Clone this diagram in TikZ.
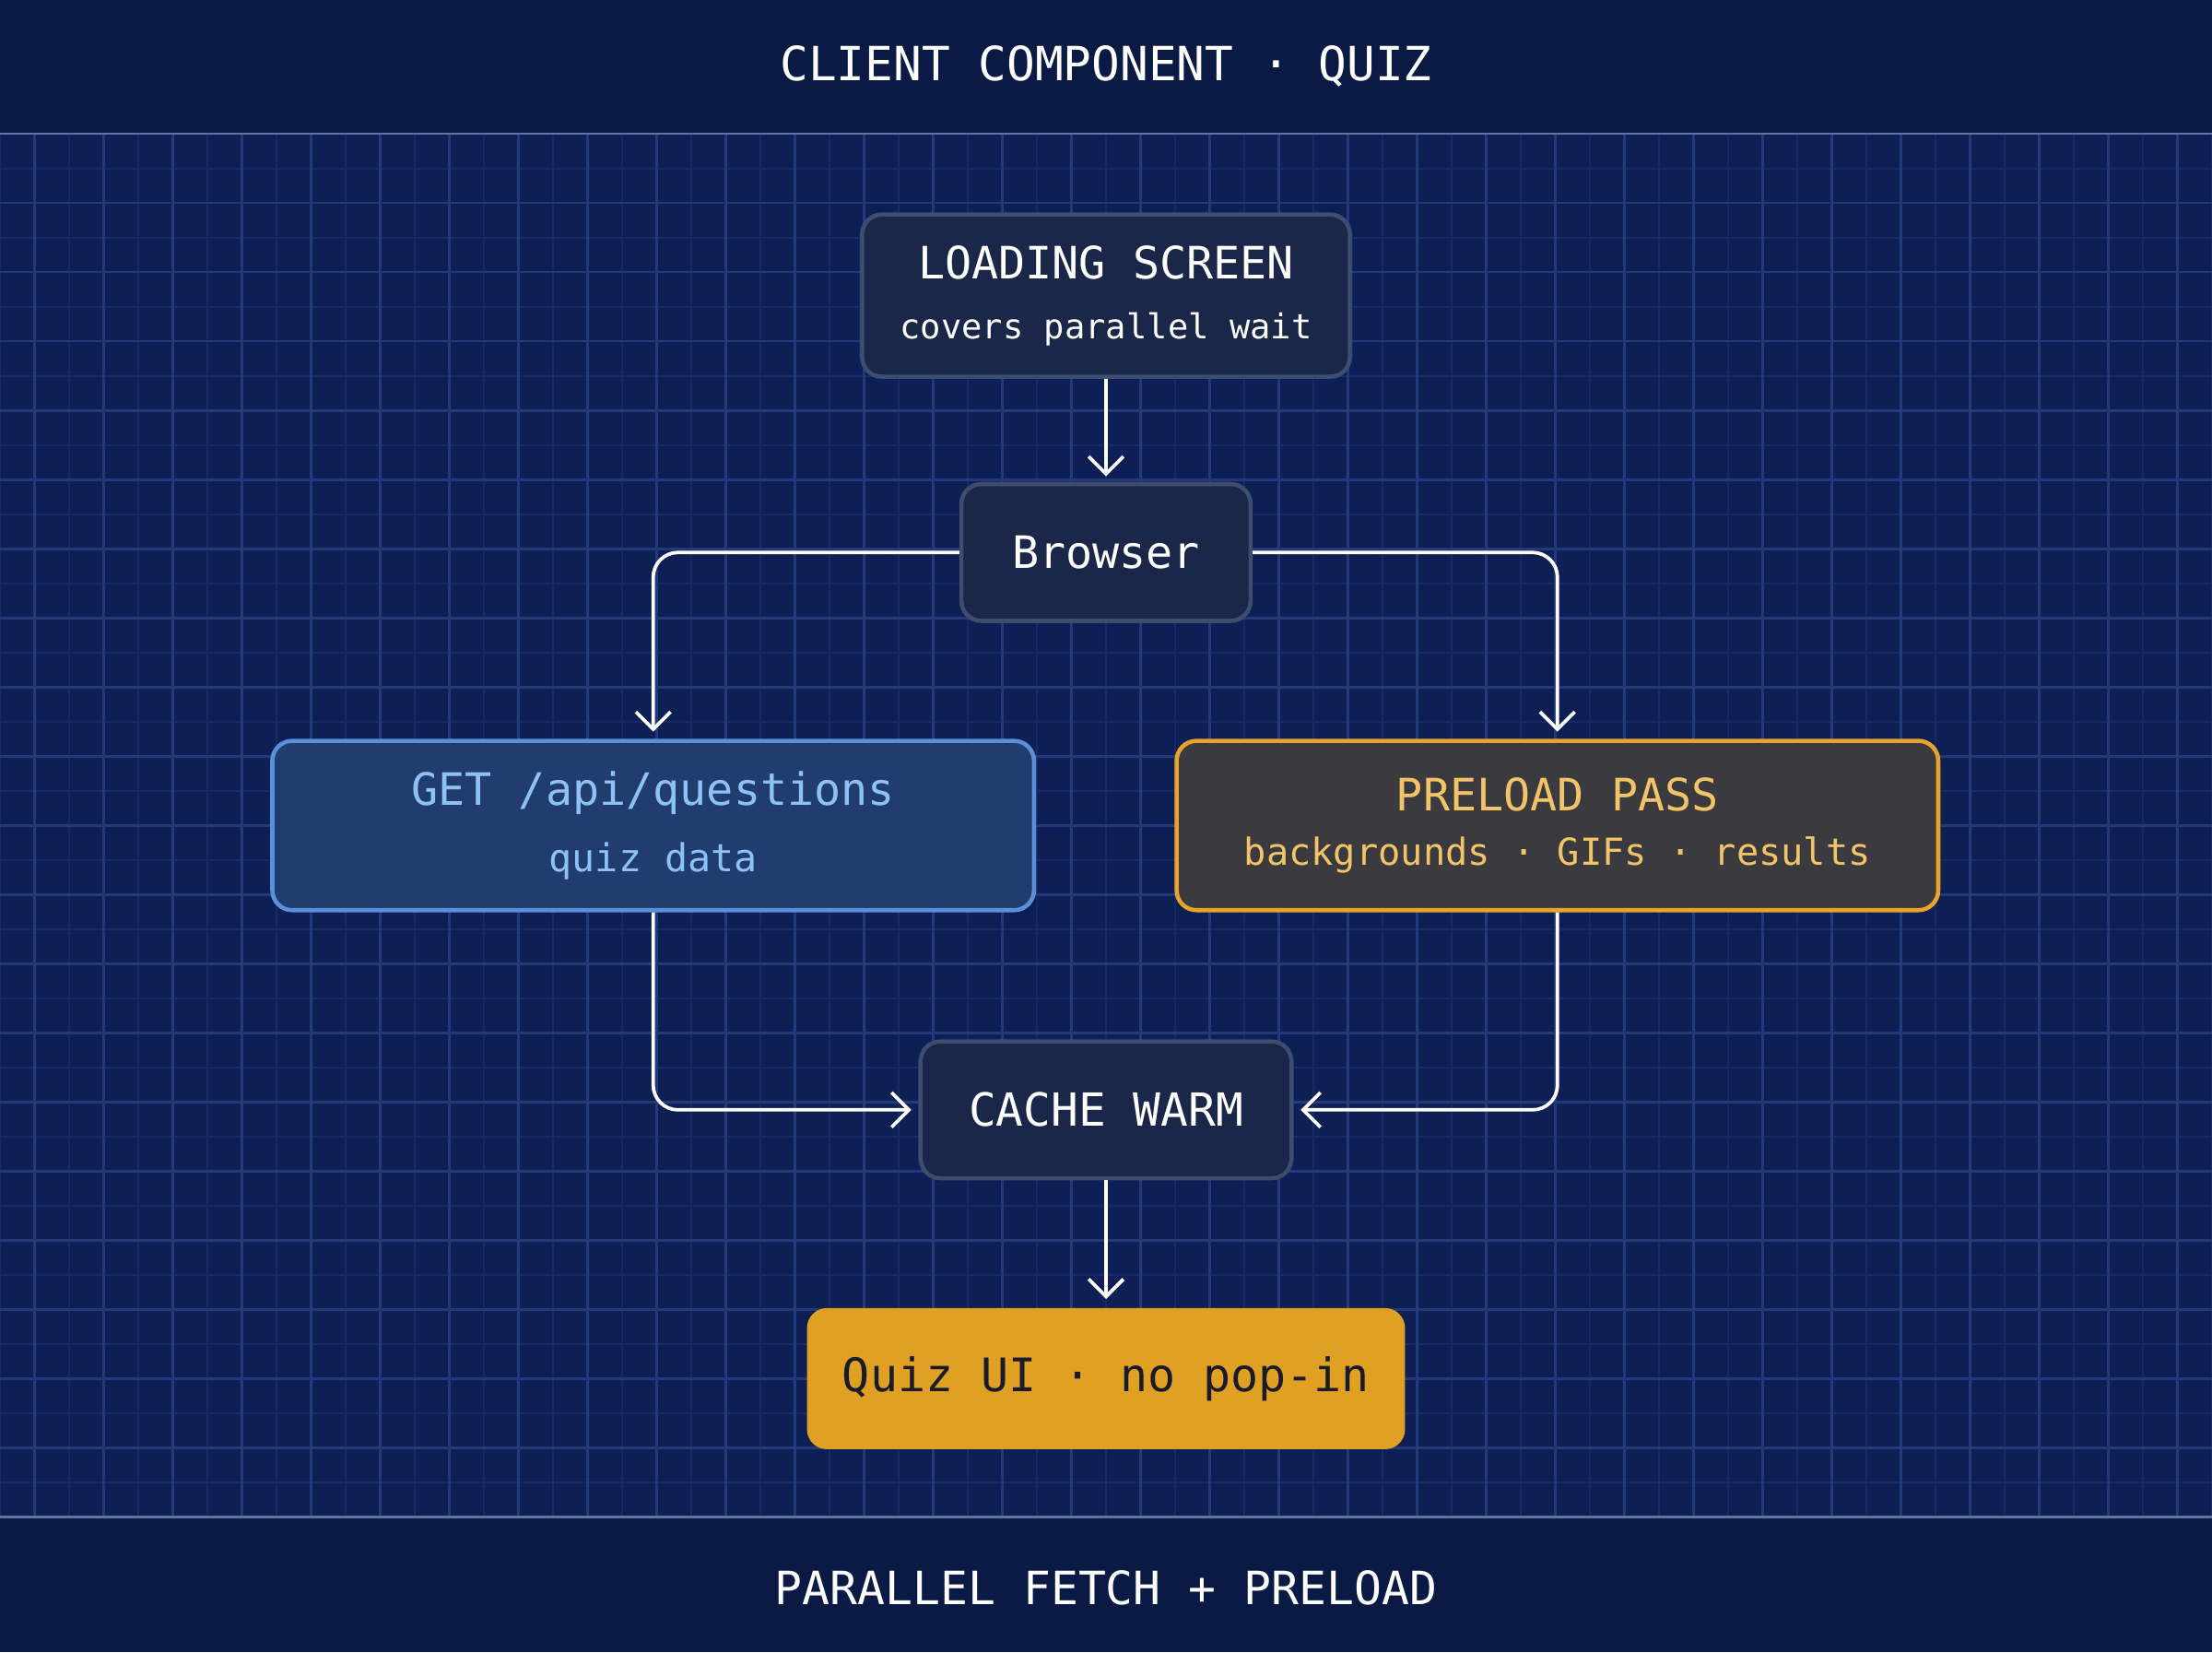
\documentclass[tikz,border=0pt]{standalone}
\usepackage{fontspec}
\setmainfont{DejaVu Sans Mono}
\usetikzlibrary{arrows.meta}
\definecolor{bgtop}{HTML}{0A1A45}
\definecolor{bggrid}{HTML}{0D1F55}
\definecolor{gridc}{HTML}{162A66}
\definecolor{gridm}{HTML}{22397A}
\definecolor{darkbox}{HTML}{1B2748}
\definecolor{darkedge}{HTML}{3E4C6E}
\definecolor{bluebox}{HTML}{213C6E}
\definecolor{blueedge}{HTML}{5B8FD9}
\definecolor{bluetext}{HTML}{8EC1F5}
\definecolor{greybox}{HTML}{3B3A3F}
\definecolor{orangeedge}{HTML}{E8A42A}
\definecolor{orangetext}{HTML}{F2C46A}
\definecolor{gold}{HTML}{E0A024}
\definecolor{inktext}{HTML}{1A1A2A}
\begin{document}
\begin{tikzpicture}[x=0.02cm,y=-0.02cm,
  box/.style={draw=darkedge,fill=darkbox,line width=1.7pt,rounded corners=8pt,text=white,align=center,inner sep=0pt},
  conn/.style={draw=white,line width=1.4pt,rounded corners=10pt,-{Straight Barb[length=7pt,width=14pt,line width=1.4pt]}},
  lbl/.style={text=white}]
\fill[bgtop] (0,0) rectangle (1568,1171);
\useasboundingbox (0,0) rectangle (1568,1171);
\fill[bggrid] (0,95) rectangle (1568,1075);
\begin{scope}
\clip (0,95) rectangle (1568,1075);
\foreach \i in {0,...,64} \draw[gridc,line width=0.5pt] (24.5*\i,95) -- (24.5*\i,1075);
\foreach \i in {0,...,40} \draw[gridc,line width=0.5pt] (0,95+24.5*\i) -- (1568,95+24.5*\i);
\foreach \i in {0,...,32} \draw[gridm,line width=0.8pt] (24.5+49*\i,95) -- (24.5+49*\i,1075);
\foreach \i in {0,...,20} \draw[gridm,line width=0.8pt] (0,95+49*\i) -- (1568,95+49*\i);
\end{scope}
\draw[gridm!70!white,line width=0.8pt] (0,95) -- (1568,95) (0,1075) -- (1568,1075);
\node[lbl,font=\fontsize{19}{22}\selectfont] (title) at (784,47) {CLIENT COMPONENT · QUIZ};
\node[lbl,font=\fontsize{18.5}{22}\selectfont] (foot) at (784,1125) {PARALLEL FETCH + PRELOAD};

\node[box,minimum width=6.92cm,minimum height=2.3cm] (load) at (784,209.5)
  {{\fontsize{18}{20}\selectfont LOADING SCREEN}\\[12pt]{\fontsize{13.8}{16}\selectfont covers parallel wait}};
\node[box,minimum width=4.1cm,minimum height=1.94cm,font=\fontsize{18}{20}\selectfont] (browser) at (784,391.5) {Browser};
\node[box,draw=blueedge,fill=bluebox,text=bluetext,minimum width=10.8cm,minimum height=2.4cm] (get) at (463,585)
  {{\fontsize{18}{20}\selectfont GET /api/questions}\\[10pt]{\fontsize{15.5}{18}\selectfont quiz data}};
\node[box,draw=orangeedge,fill=greybox,text=orangetext,minimum width=10.8cm,minimum height=2.4cm] (pre) at (1104,585)
  {{\fontsize{18}{20}\selectfont PRELOAD PASS}\\[10pt]{\fontsize{15}{18}\selectfont backgrounds · GIFs · results}};
\node[box,minimum width=5.26cm,minimum height=1.94cm,font=\fontsize{18.4}{20}\selectfont] (cache) at (784,786.5) {CACHE WARM};
\node[box,draw=none,fill=gold,text=inktext,minimum width=8.48cm,minimum height=2cm,font=\fontsize{18.6}{20}\selectfont] (quiz) at (784,977) {Quiz UI · no pop-in};

\draw[conn] (load.south) -- ([yshift=0.08cm]browser.north);
\draw[conn] (browser.west) -| ([yshift=0.1cm]get.north);
\draw[conn] (browser.east) -| ([yshift=0.1cm]pre.north);
\draw[conn] (get.south) |- ([xshift=-0.1cm]cache.west);
\draw[conn] (pre.south) |- ([xshift=0.1cm]cache.east);
\draw[conn] (cache.south) -- ([yshift=0.1cm]quiz.north);
\end{tikzpicture}
\end{document}
